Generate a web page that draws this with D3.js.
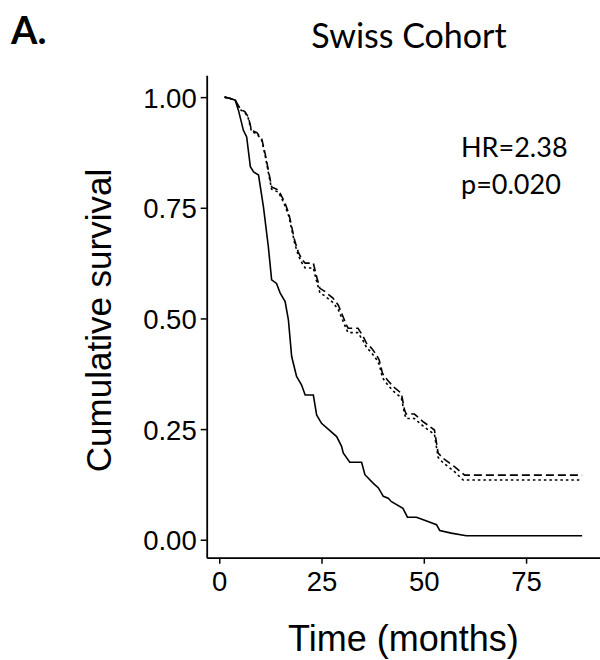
<!DOCTYPE html>
<html>
<head>
<meta charset="utf-8">
<script src="https://cdn.jsdelivr.net/npm/d3@7"></script>
<style>
  html, body { margin: 0; padding: 0; background: #fff; }
  svg { display: block; }
</style>
</head>
<body>
<svg id="chart" width="600" height="660"></svg>
<script>
// ---- data (time in months, cumulative survival) ----
const solidTime = [1.3, 2.7, 3.9, 4.7, 5.9, 6.7, 7.6, 8.4, 9.6, 10.8, 12.0, 12.8, 14.0, 14.9, 16.1, 16.9, 17.7, 18.9, 20.1, 21.0, 23.0, 23.8, 25.0, 28.7, 29.9, 30.3, 31.9, 34.8, 35.6, 37.6, 38.9, 40.1, 41.3, 42.1, 44.9, 46.0, 48.2, 50.2, 53.1, 53.9, 56.7, 60.4, 88.7];
const solidSurv = [1.0, 0.997, 0.993, 0.97, 0.925, 0.91, 0.843, 0.831, 0.824, 0.752, 0.662, 0.587, 0.579, 0.557, 0.538, 0.497, 0.414, 0.369, 0.350, 0.327, 0.327, 0.282, 0.263, 0.233, 0.211, 0.196, 0.175, 0.175, 0.147, 0.128, 0.117, 0.098, 0.094, 0.086, 0.071, 0.051, 0.051, 0.044, 0.034, 0.021, 0.015, 0.009, 0.009];

const dashedTime = [1.3, 2.7, 3.9, 5.1, 6.3, 7.1, 7.9, 9.2, 10.4, 11.2, 12.0, 12.8, 14.5, 15.3, 16.1, 17.0, 17.6, 18.4, 19.3, 20.3, 21.0, 23.0, 23.8, 24.6, 25.8, 27.8, 29.1, 29.9, 31.1, 31.5, 33.9, 35.2, 36.0, 37.2, 38.4, 39.1, 39.9, 41.1, 42.5, 44.5, 45.3, 45.7, 47.7, 49.8, 52.6, 53.5, 54.7, 57.5, 60.0, 88.7];
const dashedSurv = [1.0, 0.997, 0.993, 0.974, 0.967, 0.955, 0.925, 0.920, 0.905, 0.873, 0.835, 0.797, 0.790, 0.775, 0.760, 0.737, 0.712, 0.677, 0.650, 0.632, 0.625, 0.625, 0.594, 0.568, 0.561, 0.546, 0.530, 0.512, 0.485, 0.478, 0.478, 0.459, 0.444, 0.433, 0.418, 0.406, 0.376, 0.361, 0.346, 0.331, 0.293, 0.284, 0.284, 0.267, 0.248, 0.196, 0.184, 0.165, 0.146, 0.146];

const dottedTime = [1.3, 2.7, 3.9, 5.1, 6.3, 7.1, 7.9, 9.2, 10.4, 11.2, 12.0, 12.8, 14.5, 15.3, 16.1, 17.0, 17.6, 18.4, 19.3, 20.3, 21.0, 23.0, 23.8, 24.6, 25.8, 27.8, 29.1, 29.9, 31.1, 31.5, 33.9, 35.2, 36.0, 37.2, 38.4, 39.1, 39.9, 41.1, 42.5, 44.5, 45.3, 45.7, 47.7, 49.8, 52.6, 53.5, 54.7, 57.5, 59.6, 88.7];
const dottedSurv = [1.0, 0.997, 0.993, 0.972, 0.965, 0.952, 0.922, 0.917, 0.902, 0.869, 0.830, 0.792, 0.785, 0.770, 0.754, 0.731, 0.706, 0.671, 0.643, 0.624, 0.614, 0.614, 0.584, 0.558, 0.551, 0.536, 0.520, 0.502, 0.475, 0.468, 0.468, 0.449, 0.434, 0.423, 0.408, 0.396, 0.366, 0.351, 0.336, 0.321, 0.284, 0.274, 0.274, 0.257, 0.238, 0.186, 0.174, 0.154, 0.135, 0.135];

const xTicks = [0, 25, 50, 75];
const yTicks = [0, 0.25, 0.5, 0.75, 1.0];
const yTickLabels = ["0.00", "0.25", "0.50", "0.75", "1.00"];

const titleText = "Swiss Cohort";
const panelLabel = "A.";
const xTitle = "Time (months)";
const yTitle = "Cumulative survival";
const annotation = ["HR=2.38", "p=0.020"];

// ---- drawing ----
(function () {
const svg = d3.select("#chart");
const pLeft = 206.7, pRight = 600, pTop = 75.2, pBottom = 557.7;

const allT = solidTime.concat(dashedTime, dottedTime);
const allS = solidSurv.concat(dashedSurv, dottedSurv);
const tMin = d3.min(allT), tMax = d3.max(allT);
const sMin = d3.min(allS), sMax = d3.max(allS);
const tPad = (tMax - tMin) * 0.05, sPad = (sMax - sMin) * 0.05;

const x = d3.scaleLinear().domain([tMin - tPad, tMax + tPad]).range([pLeft, pRight]);
const y = d3.scaleLinear().domain([sMin - sPad, sMax + sPad]).range([pBottom, pTop]);

const line = d3.line().x(d => x(d[0])).y(d => y(d[1]));
function series(ts, ss) { return ts.map((t, i) => [t, ss[i]]); }

svg.append("path").datum(series(dottedTime, dottedSurv))
  .attr("d", line).attr("fill", "none").attr("stroke", "#000")
  .attr("stroke-width", 1.6).attr("stroke-dasharray", "2.5,3");
svg.append("path").datum(series(dashedTime, dashedSurv))
  .attr("d", line).attr("fill", "none").attr("stroke", "#000")
  .attr("stroke-width", 1.6).attr("stroke-dasharray", "8,4");
svg.append("path").datum(series(solidTime, solidSurv))
  .attr("d", line).attr("fill", "none").attr("stroke", "#000")
  .attr("stroke-width", 1.6);

const xAxis = svg.append("g").attr("transform", `translate(0,${pBottom})`)
  .call(d3.axisBottom(x).tickValues(xTicks).tickSize(6).tickSizeOuter(0).tickFormat(d3.format("d")));
const yAxis = svg.append("g").attr("transform", `translate(${pLeft},0)`)
  .call(d3.axisLeft(y).tickValues(yTicks).tickSize(6).tickSizeOuter(0)
    .tickFormat((d, i) => yTickLabels[i]));

[xAxis, yAxis].forEach(g => {
  g.select(".domain").attr("stroke", "#000").attr("stroke-width", 1.8);
  g.selectAll(".tick line").attr("stroke", "#000").attr("stroke-width", 1.5);
  g.selectAll(".tick text").attr("fill", "#000")
    .style("font-family", "'Liberation Sans', Arial, sans-serif").style("font-size", "27.5px");
});
xAxis.selectAll(".tick text").attr("dy", null).attr("y", 33);
yAxis.selectAll(".tick text").attr("x", -10).attr("dy", "0.36em");

svg.append("text").attr("x", (pLeft + pRight) / 2).attr("y", 651)
  .attr("text-anchor", "middle")
  .style("font-family", "'Liberation Sans', Arial, sans-serif").style("font-size", "36px")
  .text(xTitle);
svg.append("text").attr("transform", `translate(111,${(pTop + pBottom) / 2 + 4}) rotate(-90)`)
  .attr("text-anchor", "middle")
  .style("font-family", "'Liberation Sans', Arial, sans-serif").style("font-size", "35px")
  .text(yTitle);

svg.append("text").attr("x", 409).attr("y", 48).attr("text-anchor", "middle")
  .style("font-family", "Lato, 'Open Sans', sans-serif").style("font-size", "34px")
  .text(titleText);
svg.append("text").attr("x", 11).attr("y", 44)
  .style("font-family", "Lato, 'Open Sans', sans-serif").style("font-size", "38px")
  .style("font-weight", "bold")
  .text(panelLabel);

svg.append("text").attr("x", 461).attr("y", 157)
  .style("font-family", "Lato, 'Open Sans', sans-serif").style("font-size", "27px")
  .text(annotation[0]);
svg.append("text").attr("x", 461).attr("y", 194)
  .style("font-family", "Lato, 'Open Sans', sans-serif").style("font-size", "27px")
  .text(annotation[1]);
})();
</script>
</body>
</html>
